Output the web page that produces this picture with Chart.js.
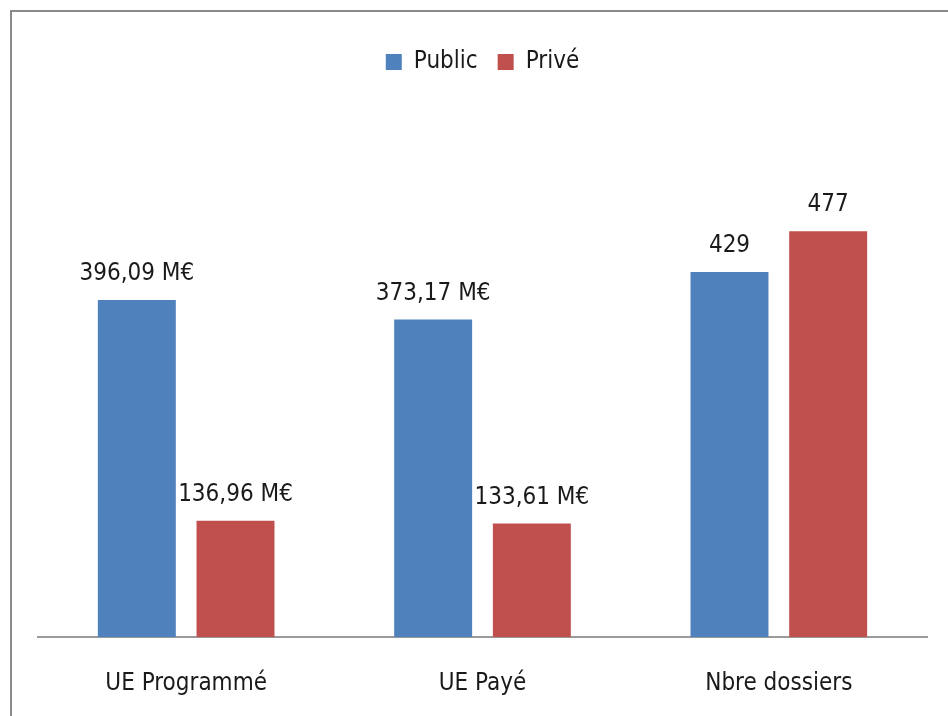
<!DOCTYPE html>
<html>
<head>
<meta charset="utf-8">
<script src="https://cdn.jsdelivr.net/npm/chart.js@4"></script>
<style>
  body { margin: 0; background: #fff; }
  #frame { position: absolute; left: 10px; top: 10px; width: 1000px; height: 800px;
           border: 2px solid #8a8a8a; box-sizing: border-box; }
  #wrap { position: absolute; left: 0; top: 0; width: 948px; height: 716px; }
</style>
</head>
<body>
<div id="frame"></div>
<div id="wrap"><canvas id="chart" width="948" height="716"></canvas></div>
<script>
const categories = ["UE Programmé", "UE Payé", "Nbre dossiers"];
const publicValues = [396.09, 373.17, 429];
const priveValues = [136.96, 133.61, 477];
const units = ["M€", "M€", ""];

const FONT = "'Liberation Sans Narrow', 'DejaVu Sans Condensed', sans-serif";

function fmt(v, i) {
  if (units[i]) return v.toFixed(2).replace(".", ",") + " " + units[i];
  return String(v);
}

// draw the values above each bar
const valueLabels = {
  id: "valueLabels",
  afterDatasetsDraw(chart) {
    const ctx = chart.ctx;
    ctx.save();
    ctx.font = "24px " + FONT;
    ctx.fillStyle = "#1a1a1a";
    ctx.textAlign = "center";
    ctx.textBaseline = "bottom";
    chart.data.datasets.forEach((ds, di) => {
      chart.getDatasetMeta(di).data.forEach((bar, i) => {
        ctx.fillText(fmt(ds.data[i], i), bar.x, bar.y - 14);
      });
    });
    ctx.restore();
  }
};

new Chart(document.getElementById("chart"), {
  type: "bar",
  data: {
    labels: categories,
    datasets: [
      { label: "Public", data: publicValues, backgroundColor: "#4f81bd" },
      { label: "Privé", data: priveValues, backgroundColor: "#c0504d" }
    ]
  },
  options: {
    responsive: false,
    animation: false,
    layout: { padding: { left: 38, right: 21, top: 30, bottom: -14 } },
    datasets: { bar: { categoryPercentage: 0.666, barPercentage: 0.79 } },
    plugins: {
      legend: {
        position: "top",
        labels: {
          font: { family: FONT, size: 24 },
          color: "#1a1a1a",
          boxWidth: 16,
          boxHeight: 16,
          padding: 20
        }
      },
      tooltip: { enabled: false }
    },
    scales: {
      x: {
        grid: { display: false, drawTicks: false },
        border: { display: true, color: "#9a9a9a", width: 2 },
        ticks: { font: { family: FONT, size: 24 }, color: "#1a1a1a", padding: 32 }
      },
      y: {
        display: false,
        min: 0,
        max: 650
      }
    }
  },
  plugins: [valueLabels]
});
</script>
</body>
</html>
